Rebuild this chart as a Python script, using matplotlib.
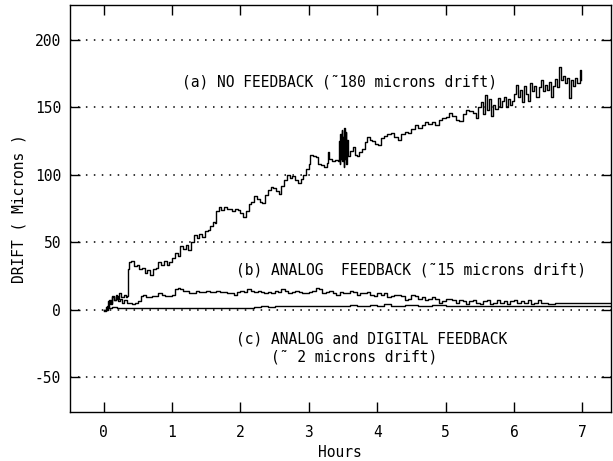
import matplotlib
matplotlib.use("Agg")
import matplotlib.pyplot as plt

# ---------------- data ----------------
hours_a = [0.00, 0.05, 0.08, 0.10, 0.12, 0.15, 0.18, 0.20, 0.23, 0.26, 0.29, 0.32, 0.34,
           0.35, 0.37, 0.40, 0.44, 0.48, 0.52, 0.56, 0.60, 0.64, 0.68, 0.72, 0.76, 0.80,
           0.84, 0.88, 0.92, 0.96, 1.00, 1.04, 1.08, 1.12, 1.16, 1.20, 1.24, 1.28, 1.32,
           1.36, 1.40, 1.44, 1.48, 1.52, 1.56, 1.60, 1.63, 1.65, 1.68, 1.72, 1.76, 1.80,
           1.84, 1.88, 1.92, 1.96, 2.00, 2.04, 2.08, 2.12, 2.16, 2.20, 2.24, 2.28, 2.32,
           2.36, 2.40, 2.44, 2.48, 2.52, 2.56, 2.60, 2.64, 2.68, 2.72, 2.76, 2.80, 2.84,
           2.88, 2.92, 2.96, 3.00, 3.02, 3.06, 3.10, 3.14, 3.18, 3.22, 3.26, 3.28, 3.30,
           3.34, 3.38, 3.42, 3.44, 3.45, 3.46, 3.47, 3.48, 3.49, 3.50, 3.51, 3.52, 3.53,
           3.54, 3.55, 3.56, 3.57, 3.60, 3.64, 3.67, 3.70, 3.74, 3.78, 3.82, 3.85, 3.89,
           3.93, 3.97, 4.01, 4.05, 4.10, 4.15, 4.20, 4.25, 4.30, 4.35, 4.40, 4.45, 4.50,
           4.55, 4.60, 4.65, 4.70, 4.75, 4.80, 4.85, 4.90, 4.95, 5.00, 5.05, 5.10, 5.15,
           5.20, 5.25, 5.30, 5.35, 5.40, 5.45, 5.48, 5.52, 5.55, 5.58, 5.61, 5.64, 5.67,
           5.70, 5.73, 5.76, 5.79, 5.82, 5.85, 5.88, 5.91, 5.94, 5.97, 6.00, 6.03, 6.06,
           6.09, 6.12, 6.15, 6.18, 6.21, 6.24, 6.27, 6.30, 6.33, 6.36, 6.39, 6.42, 6.45,
           6.48, 6.51, 6.54, 6.57, 6.60, 6.63, 6.66, 6.69, 6.72, 6.75, 6.78, 6.81, 6.84,
           6.87, 6.90, 6.93, 6.96, 6.98]
drift_a = [0, 3, 7, 5, 10, 7, 11, 8, 12, 9, 11, 9, 10,
           30, 35, 36, 32, 33, 30, 31, 27, 29, 26, 30, 31, 35,
           33, 36, 33, 35, 38, 42, 40, 47, 45, 48, 44, 50, 55,
           53, 56, 54, 58, 59, 62, 65, 64, 73, 76, 74, 76, 75,
           75, 73, 75, 74, 72, 69, 73, 78, 80, 84, 82, 80, 79,
           85, 89, 91, 90, 88, 86, 92, 96, 100, 98, 99, 96, 94,
           97, 100, 104, 108, 115, 114, 113, 108, 107, 106, 109, 117, 112,
           110, 111, 110, 125, 108, 130, 112, 133, 110, 128, 106, 135, 112,
           132, 108, 126, 114, 118, 121, 115, 114, 117, 119, 124, 128, 126,
           125, 123, 122, 127, 129, 130, 131, 128, 126, 130, 132, 131, 134,
           137, 135, 137, 139, 138, 139, 137, 141, 142, 143, 146, 144, 141,
           140, 145, 148, 147, 146, 142, 150, 154, 145, 159, 148, 156, 144,
           152, 149, 157, 150, 155, 158, 150, 156, 152, 155, 160, 167, 158,
           163, 154, 166, 160, 155, 168, 162, 166, 158, 165, 170, 162, 167,
           163, 169, 158, 166, 171, 165, 180, 170, 173, 168, 172, 157, 170,
           166, 172, 168, 178, 170]

hours_b = [0.00, 0.03, 0.06, 0.09, 0.12, 0.15, 0.18, 0.21, 0.24, 0.27, 0.30, 0.34, 0.38,
           0.42, 0.46, 0.50, 0.54, 0.58, 0.62, 0.66, 0.70, 0.75, 0.80, 0.85, 0.90, 0.95,
           1.00, 1.04, 1.08, 1.12, 1.16, 1.20, 1.25, 1.30, 1.35, 1.40, 1.45, 1.50, 1.55,
           1.60, 1.65, 1.70, 1.75, 1.80, 1.85, 1.90, 1.95, 2.00, 2.05, 2.10, 2.15, 2.20,
           2.25, 2.30, 2.35, 2.40, 2.45, 2.50, 2.55, 2.60, 2.65, 2.70, 2.75, 2.80, 2.85,
           2.90, 2.95, 3.00, 3.05, 3.10, 3.15, 3.20, 3.25, 3.30, 3.35, 3.40, 3.45, 3.50,
           3.55, 3.60, 3.65, 3.70, 3.75, 3.80, 3.85, 3.90, 3.95, 4.00, 4.05, 4.10, 4.15,
           4.20, 4.25, 4.30, 4.35, 4.40, 4.45, 4.50, 4.55, 4.60, 4.65, 4.70, 4.75, 4.80,
           4.85, 4.90, 4.95, 5.00, 5.05, 5.10, 5.15, 5.20, 5.25, 5.30, 5.35, 5.40, 5.45,
           5.50, 5.55, 5.60, 5.65, 5.70, 5.75, 5.80, 5.85, 5.90, 5.95, 6.00, 6.05, 6.10,
           6.15, 6.20, 6.25, 6.30, 6.35, 6.40, 6.45, 6.50, 6.60, 6.70, 6.80, 6.90, 7.00,
           7.20, 7.45]
drift_b = [0, 2, 6, 4, 9, 7, 10, 6, 8, 5, 7, 5, 5,
           4, 5, 6, 10, 11, 9, 9, 10, 10, 12, 11, 10, 10,
           11, 15, 16, 15, 14, 14, 12, 12, 14, 13, 13, 14, 13,
           13, 14, 13, 13, 12, 12, 11, 13, 14, 13, 15, 14, 13,
           14, 13, 12, 13, 12, 14, 13, 15, 14, 12, 13, 14, 13,
           12, 12, 13, 14, 16, 15, 12, 13, 14, 12, 11, 13, 12,
           12, 14, 13, 11, 12, 12, 13, 11, 10, 12, 11, 12, 9,
           10, 11, 11, 10, 7, 8, 11, 10, 8, 9, 7, 8, 9,
           8, 5, 6, 8, 8, 7, 5, 7, 6, 4, 6, 7, 5,
           4, 6, 7, 4, 5, 7, 5, 6, 4, 6, 7, 5, 6,
           5, 7, 4, 5, 7, 5, 5, 4, 5, 5, 5, 5, 5,
           5, 5]

hours_c = [0.00, 0.04, 0.06, 0.08, 0.12, 0.20, 0.40, 0.60, 0.80, 1.00, 1.20, 1.40, 1.60,
           1.80, 2.00, 2.20, 2.30, 2.40, 2.50, 2.60, 2.70, 2.80, 2.90, 3.00, 3.10, 3.20,
           3.30, 3.40, 3.50, 3.60, 3.70, 3.80, 3.90, 4.00, 4.10, 4.20, 4.40, 4.60, 4.80,
           5.00, 5.40, 5.80, 6.20, 6.60, 7.00, 7.45]
drift_c = [-1, 0, 3, 1, 2, 1, 1, 1, 1, 1, 1, 1, 1.5,
           1.5, 1.5, 2, 3, 2, 3, 2.5, 3, 2.5, 3, 2.5, 3, 2.5,
           3, 3, 2.5, 3.5, 3, 3, 3.5, 3, 4, 3, 3.5, 3, 3.5,
           3, 3, 3, 3, 3, 3, 3]

x_ticks = [0, 1, 2, 3, 4, 5, 6, 7]
y_ticks = [-50, 0, 50, 100, 150, 200]

label_a = "(a) NO FEEDBACK (\u02dc180 microns drift)"
label_b = "(b) ANALOG  FEEDBACK (\u02dc15 microns drift)"
label_c1 = "(c) ANALOG and DIGITAL FEEDBACK"
label_c2 = "    (\u02dc 2 microns drift)"

# ---------------- figure ----------------
plt.rcParams['font.family'] = ['DejaVu Sans Mono', 'DejaVu Sans']
plt.rcParams['axes.unicode_minus'] = False
FS = 10.5

fig = plt.figure(figsize=(6.13, 4.61), dpi=100)
ax = fig.add_axes([69.5 / 613, 1 - 412 / 461, (611 - 69.5) / 613, (412 - 5) / 461])

for y in y_ticks:
    ax.axhline(y, color='black', lw=1.1, ls=(0, (1, 4.2)), zorder=1)

for hx, dy in ((hours_a, drift_a), (hours_b, drift_b), (hours_c, drift_c)):
    ax.plot(hx, dy, color='black', lw=1.0, drawstyle='steps-post', zorder=3)

ax.set_xlim(-0.5, 7.42)
ax.set_ylim(-76, 226)
ax.set_xticks(x_ticks)
ax.set_yticks(y_ticks)
ax.tick_params(axis='both', direction='in', length=7, width=1.0, labelsize=FS,
               top=True, right=True, color='black')
ax.tick_params(axis='x', pad=9)
ax.tick_params(axis='y', pad=6)
for s in ax.spines.values():
    s.set_linewidth(1.0)

ax.set_xlabel("Hours", fontsize=FS, labelpad=4)
ax.set_ylabel("DRIFT ( Microns )", fontsize=FS, labelpad=6)

ax.text(1.14, 169, label_a, fontsize=FS, ha='left', va='center')
ax.text(1.93, 29, label_b, fontsize=FS, ha='left', va='center')
ax.text(1.93, -21.5, label_c1, fontsize=FS, ha='left', va='center')
ax.text(1.93, -35, label_c2, fontsize=FS, ha='left', va='center')

fig.savefig("out.png", dpi=100)
